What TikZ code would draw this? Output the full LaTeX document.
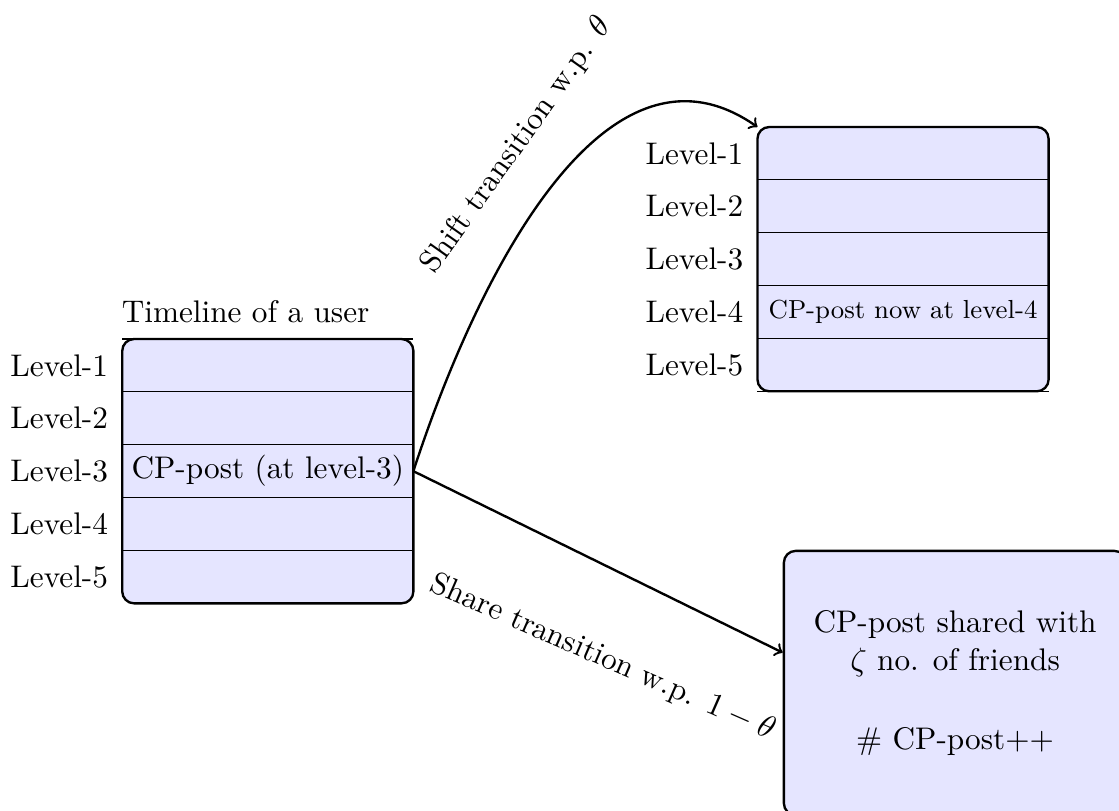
\documentclass[tikz,border=0pt]{standalone}
\usepackage{amsmath,amssymb}
\usepackage{fontspec}
\usepackage{xcolor}
\usetikzlibrary{arrows}
\usetikzlibrary{calc}
\usetikzlibrary{positioning, fit}
\pgfdeclarelayer{background}
\pgfsetlayers{background,main}
\tikzset{
  cell/.style={minimum width=3.47cm, minimum height=0.63cm, inner sep=0pt, outer sep=0pt},
  postbox/.style={draw, thick, rounded corners=4pt, fill=blue!10, inner sep=0pt},
  rowline/.style={thin}
}

\begin{document}
\begin{tikzpicture}[font=\fontsize{10.6pt}{12.8pt}\selectfont]
              \useasboundingbox (0,0) rectangle (13.337,-9.655);
              \node[cell] (l1) at (3.192,-4.356) {};
              \node[cell, below=0pt of l1] (l2) {};
              \node[cell, below=0pt of l2] (l3) {CP-post (at level-3)};
              \node[cell, below=0pt of l3] (l4) {};
              \node[cell, below=0pt of l4] (l5) {};
              \begin{pgfonlayer}{background}
                \node[postbox, fit=(l1)(l5)] (timeline) {};
              \end{pgfonlayer}
              \draw[rowline] (l1.north west)--(l1.north east);
              \draw[rowline] (l1.south west)--(l1.south east);
              \draw[rowline] (l2.south west)--(l2.south east);
              \draw[rowline] (l3.south west)--(l3.south east);
              \draw[rowline] (l4.south west)--(l4.south east);
              \node[left=1.3pt of l1] (ll1) {Level-1};
              \node[left=1.3pt of l2] (ll2) {Level-2};
              \node[left=1.3pt of l3] (ll3) {Level-3};
              \node[left=1.3pt of l4] (ll4) {Level-4};
              \node[left=1.3pt of l5] (ll5) {Level-5};
              \node[above right=2pt and -3.7pt of l1.north west] (title) {Timeline of a user};

              \node[cell] (r1) at (10.763,-1.829) {};
              \node[cell, below=0pt of r1] (r2) {};
              \node[cell, below=0pt of r2] (r3) {};
              \node[cell, below=0pt of r3] (r4) {\fontsize{8.85pt}{10.6pt}\selectfont CP-post now at level-4};
              \node[cell, below=0pt of r4] (r5) {};
              \begin{pgfonlayer}{background}
                \node[postbox, fit=(r1)(r5)] (shifted) {};
              \end{pgfonlayer}
              \draw[rowline] (r1.south west)--(r1.south east);
              \draw[rowline] (r2.south west)--(r2.south east);
              \draw[rowline] (r3.south west)--(r3.south east);
              \draw[rowline] (r4.south west)--(r4.south east);
              \draw[rowline] (r5.south west)--(r5.south east);
              \node[left=1.3pt of r1] (rl1) {Level-1};
              \node[left=1.3pt of r2] (rl2) {Level-2};
              \node[left=1.3pt of r3] (rl3) {Level-3};
              \node[left=1.3pt of r4] (rl4) {Level-4};
              \node[left=1.3pt of r5] (rl5) {Level-5};

              \node[postbox, minimum width=4.08cm, minimum height=3.15cm, align=center] (shared)
              at (11.383,-8.141) {CP-post shared with\\ $\zeta$ no. of friends\\[14pt] \# CP-post++};

              \draw[thick,->] (l3.east) to[out=72,in=145]
              node[pos=0.47, sloped, above=9pt, xshift=12pt] (shiftlbl) {Shift transition w.p. $\theta$} (r1.north west);
              \draw[thick,->] (l3.east) --
              node[pos=0.61, sloped, rotate=2.5, below=20pt] (sharelbl) {Share transition w.p. $1-\theta$} (shared.170);
            \end{tikzpicture}
\end{document}
